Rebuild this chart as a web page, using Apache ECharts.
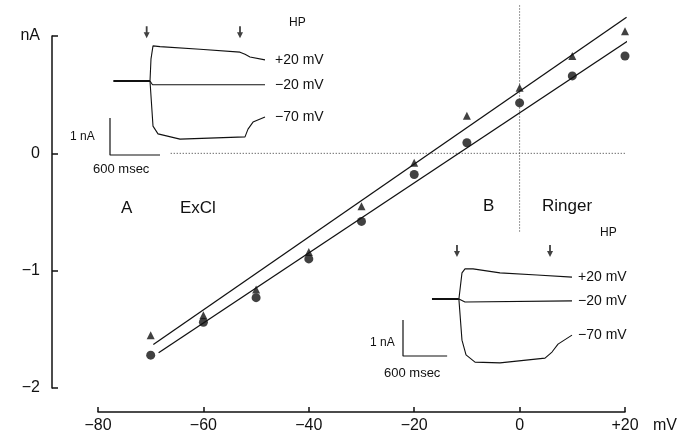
<!DOCTYPE html>
<html>
<head>
<meta charset="utf-8">
<script src="https://cdn.jsdelivr.net/npm/echarts@6/dist/echarts.min.js"></script>
<style>
  html, body { margin: 0; padding: 0; background: #fff; }
  #chart { width: 694px; height: 436px; }
</style>
</head>
<body>
<div id="chart"></div>
<script>
// membrane potential steps (mV)
var voltages = [-70, -60, -50, -40, -30, -20, -10, 0, 10, 20];
// current (nA), triangles and circles
var triangleCurrents = [-1.55, -1.38, -1.16, -0.84, -0.45, -0.08, 0.32, 0.56, 0.83, 1.04];
var circleCurrents = [-1.72, -1.44, -1.23, -0.90, -0.58, -0.18, 0.09, 0.43, 0.66, 0.83];
// fitted lines, end points [mV, nA]
var fitTriangles = [[-69.5, -1.63], [20.3, 1.16]];
var fitCircles = [[-68.5, -1.70], [23.3, 1.04]];
// dotted zero lines
var zeroLineLeft = [[-88.6, 0], [-82.4, 0]];
var zeroLineRight = [[-66.2, 0], [23.5, 0]];
var zeroLineVertical = [[0, 1.26], [0, -0.67]];

// inset A (ExCl): [msec, nA]
var insetA_base = [[-440, 0], [0, 0]];
var insetA_plus20 = [[0, 0], [12, 0.6], [36, 0.95], [120, 0.93], [600, 0.86], [1080, 0.78], [1140, 0.72], [1200, 0.65], [1380, 0.57]];
var insetA_minus20 = [[0, 0], [30, -0.1], [1380, -0.1]];
var insetA_minus70 = [[0, 0], [24, -0.03], [36, -1.22], [96, -1.43], [360, -1.57], [1140, -1.51], [1176, -1.30], [1236, -1.11], [1380, -0.97]];
var insetA_bar = [[-480, -1], [-480, -2], [120, -2]];
var insetA_arrows = [[-40, 1.32], [1080, 1.32]];

// inset B (Ringer): [msec, nA]
var insetB_base = [[-386, -0.42], [-20, -0.42]];
var insetB_plus20 = [[-20, -0.42], [22, 0.31], [63, 0.42], [172, 0.42], [539, 0.31], [1042, 0.25], [1518, 0.19]];
var insetB_minus20 = [[-20, -0.42], [63, -0.5], [1518, -0.47]];
var insetB_minus70 = [[-20, -0.42], [22, -1.56], [77, -1.97], [199, -2.17], [539, -2.19], [1151, -2.06], [1246, -1.89], [1328, -1.67], [1518, -1.42]];
var insetB_bar = [[-780, -1], [-780, -2], [-180, -2]];
var insetB_arrows = [[-46, 0.92], [1219, 0.92]];

var FONT = 'Liberation Sans';
var INK = '#111';
var ARROW = 'path://M3.5,0 L6.5,0 L6.5,11 L10,11 L5,22 L0,11 L3.5,11 Z';

function minus(v) {
    return v < 0 ? '\u2212' + Math.abs(v) : String(v);
}

function trace(data, xi, label, width) {
    return {
        type: 'line', xAxisIndex: xi, yAxisIndex: xi, data: data,
        showSymbol: false, symbol: 'none', clip: false, silent: true,
        lineStyle: { color: INK, width: width || 1.1 },
        endLabel: label ? {
            show: true, formatter: label, distance: xi === 1 ? 10 : 6,
            color: INK, fontFamily: FONT, fontSize: 14
        } : { show: false }
    };
}

function dotted(data) {
    return {
        type: 'line', data: data, symbol: 'none', clip: false, silent: true,
        lineStyle: { color: '#333', width: 1, type: [1, 2] }
    };
}

function txt(x, y, s, size) {
    return {
        type: 'text', x: x, y: y,
        style: { text: s, fill: INK, font: size + 'px "' + FONT + '"', textVerticalAlign: 'middle' }
    };
}

var chart = echarts.init(document.getElementById('chart'));
chart.setOption({
    animation: false,
    backgroundColor: '#fff',
    grid: [
        { left: 98, right: 69, top: 36, bottom: 48 },
        { left: 110, top: 25.5, width: 155, height: 129.5 },
        { left: 403, top: 240.8, width: 169, height: 115.2 }
    ],
    xAxis: [
        {
            type: 'value', min: -80, max: 20, interval: 20, offset: 24,
            name: 'mV', nameLocation: 'end', nameGap: 28,
            nameTextStyle: { color: INK, fontFamily: FONT, fontSize: 16, verticalAlign: 'top', padding: [6, 0, 0, 0] },
            axisLine: { onZero: false, lineStyle: { color: INK, width: 1.5 } },
            axisTick: { inside: true, length: 5, lineStyle: { color: INK, width: 1.5 } },
            axisLabel: {
                color: INK, fontFamily: FONT, fontSize: 16, margin: 6,
                formatter: function (v) { return v > 0 ? '+' + v : minus(v); }
            },
            splitLine: { show: false }
        },
        { gridIndex: 1, type: 'value', min: -480, max: 1380, show: false },
        { gridIndex: 2, type: 'value', min: -780, max: 1518, show: false }
    ],
    yAxis: [
        {
            type: 'value', min: -2, max: 1, interval: 1, offset: 46,
            axisLine: { show: true, onZero: false, lineStyle: { color: INK, width: 1.5 } },
            axisTick: { show: true, inside: true, length: 6, lineStyle: { color: INK, width: 1.5 } },
            axisLabel: {
                color: INK, fontFamily: FONT, fontSize: 16, margin: 12,
                formatter: function (v) { return v === 1 ? 'nA' : minus(v); }
            },
            splitLine: { show: false }
        },
        { gridIndex: 1, type: 'value', min: -2, max: 1.5, show: false },
        { gridIndex: 2, type: 'value', min: -2, max: 1.2, show: false }
    ],
    series: [
        dotted(zeroLineLeft),
        dotted(zeroLineRight),
        dotted(zeroLineVertical),
        {
            type: 'line', data: fitTriangles, symbol: 'none', clip: false, silent: true,
            lineStyle: { color: INK, width: 1.3 }
        },
        {
            type: 'line', data: fitCircles, symbol: 'none', clip: false, silent: true,
            lineStyle: { color: INK, width: 1.3 }
        },
        {
            type: 'scatter', symbol: 'triangle', symbolSize: 8, clip: false,
            itemStyle: { color: INK },
            data: voltages.map(function (v, i) { return [v, triangleCurrents[i]]; })
        },
        {
            type: 'scatter', symbol: 'circle', symbolSize: 9, clip: false,
            itemStyle: { color: INK },
            data: voltages.map(function (v, i) { return [v, circleCurrents[i]]; })
        },
        // inset A
        trace(insetA_base, 1, null, 2),
        trace(insetA_plus20, 1, '+20 mV'),
        trace(insetA_minus20, 1, '\u221220 mV'),
        trace(insetA_minus70, 1, '\u221270 mV'),
        trace(insetA_bar, 1, null, 1.2),
        {
            type: 'scatter', xAxisIndex: 1, yAxisIndex: 1, data: insetA_arrows, clip: false,
            symbol: ARROW, symbolSize: [6, 12], itemStyle: { color: INK }
        },
        // inset B
        trace(insetB_base, 2, null, 2),
        trace(insetB_plus20, 2, '+20 mV'),
        trace(insetB_minus20, 2, '\u221220 mV'),
        trace(insetB_minus70, 2, '\u221270 mV'),
        trace(insetB_bar, 2, null, 1.2),
        {
            type: 'scatter', xAxisIndex: 2, yAxisIndex: 2, data: insetB_arrows, clip: false,
            symbol: ARROW, symbolSize: [6, 12], itemStyle: { color: INK }
        }
    ],
    graphic: [
        txt(121, 208, 'A', 17),
        txt(180, 208, 'ExCl', 17),
        txt(483, 206, 'B', 17),
        txt(542, 206, 'Ringer', 17),
        txt(289, 23, 'HP', 12),
        txt(600, 233, 'HP', 12),
        txt(70, 137, '1 nA', 12),
        txt(93, 169, '600 msec', 13),
        txt(370, 343, '1 nA', 12),
        txt(384, 373, '600 msec', 13)
    ]
});
</script>
</body>
</html>
